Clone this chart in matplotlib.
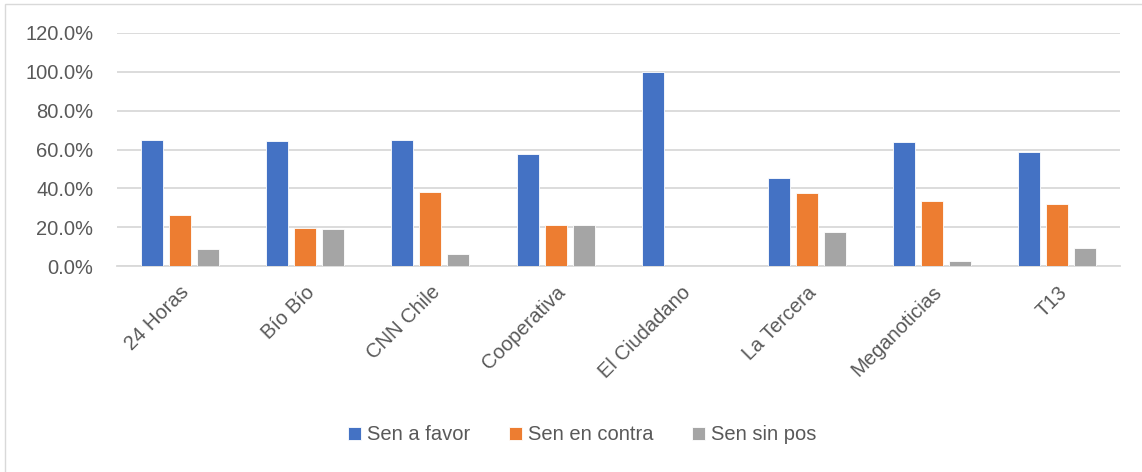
import matplotlib
matplotlib.use("Agg")
import matplotlib.pyplot as plt
import numpy as np
from matplotlib.patches import Rectangle
from matplotlib.ticker import FuncFormatter

# medios y porcentajes
medios = ["24 Horas", "Bío Bío", "CNN Chile", "Cooperativa",
          "El Ciudadano", "La Tercera", "Meganoticias", "T13"]
a_favor = [65.1, 64.5, 64.8, 57.9, 100.0, 45.1, 63.8, 58.6]
en_contra = [26.4, 19.4, 37.9, 21.1, 0.0, 37.5, 33.3, 32.1]
sin_pos = [8.6, 19.2, 6.3, 21.1, 0.0, 17.7, 2.7, 9.3]
series_names = ["Sen a favor", "Sen en contra", "Sen sin pos"]
colors = ["#4472C4", "#ED7D31", "#A5A5A5"]

TXT = "#595959"
FS = 14.5
plt.rcParams["font.family"] = ["Liberation Sans", "DejaVu Sans"]

fig = plt.figure(figsize=(11.42, 4.72), dpi=100)
W, H = 1142, 472
ax = fig.add_axes([117 / W, 1 - 266 / H, (1120 - 117) / W, (266 - 33) / H])

x = np.arange(len(medios))
step = 0.2236
width = 0.1756
for i, vals in enumerate([a_favor, en_contra, sin_pos]):
    ax.bar(x + (i - 1) * step, vals, width, color=colors[i],
           edgecolor="white", linewidth=0.6, label=series_names[i], zorder=3)

ax.set_xlim(-0.5, len(medios) - 0.5)
ax.set_ylim(0, 120)
ax.set_yticks(np.arange(0, 121, 20))
ax.yaxis.set_major_formatter(FuncFormatter(lambda v, p: f"{v:.1f}%"))
ax.grid(axis="y", color="#D9D9D9", linewidth=1.3, zorder=0)
for s in ["top", "right", "left"]:
    ax.spines[s].set_visible(False)
ax.spines["bottom"].set_color("#D9D9D9")
ax.spines["bottom"].set_linewidth(1.3)
ax.tick_params(axis="y", length=0, pad=17, labelsize=FS, labelcolor=TXT)
ax.tick_params(axis="x", length=0, pad=12, labelsize=FS, labelcolor=TXT)
ax.set_xticks(x)
ax.set_xticklabels(medios, rotation=45, ha="right", rotation_mode="anchor")

leg = fig.legend(loc="center", bbox_to_anchor=(582 / W, 1 - 435 / H), ncol=3,
                 frameon=False, fontsize=FS, handlelength=0.65, handleheight=0.65,
                 handletextpad=0.3, columnspacing=1.9)
for t in leg.get_texts():
    t.set_color(TXT)

# borde del area del grafico
fig.patches.append(Rectangle((5 / W, -0.1), 1.2, (1 - 4 / H) + 0.1,
                             transform=fig.transFigure, fill=False,
                             edgecolor="#D9D9D9", linewidth=1.0))

fig.savefig("out.png", dpi=100)
